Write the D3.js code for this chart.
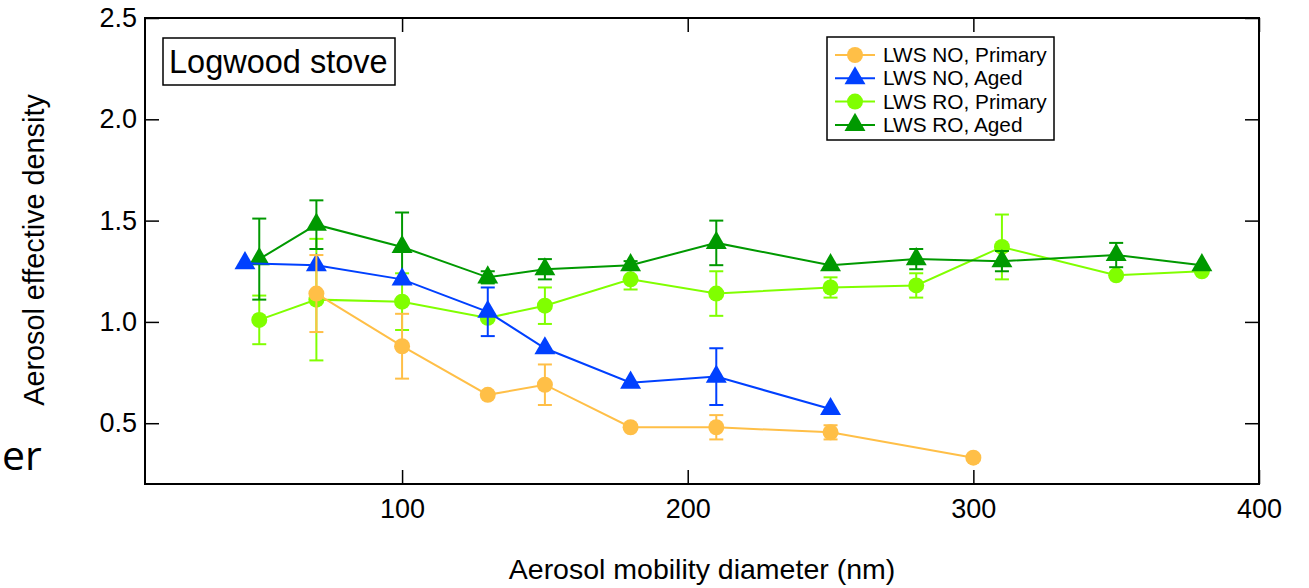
<!DOCTYPE html>
<html lang="en">
<head>
<meta charset="UTF-8">
<title>Aerosol effective density</title>
<style>
body { margin: 0; background: #fff; font-family: 'Liberation Sans', Arial, sans-serif; }
svg text { fill: #000; }
</style>
</head>
<body>
<div id="chart"></div>
<script src="https://cdnjs.cloudflare.com/ajax/libs/d3/7.8.5/d3.min.js"></script>
<script>

// LWS NO, Primary
var noPrimX = [70, 100, 130, 150, 180, 210, 250, 300];
var noPrimY = [1.14, 0.88, 0.64, 0.69, 0.48, 0.48, 0.455, 0.33];
var noPrimErr = [0.19, 0.16, 0, 0.10, 0, 0.06, 0.035, 0];

// LWS NO, Aged
var noAgedX = [45, 70, 100, 130, 150, 180, 210, 250];
var noAgedY = [1.29, 1.28, 1.21, 1.05, 0.87, 0.70, 0.73, 0.57];
var noAgedErr = [0, 0, 0, 0.12, 0, 0, 0.14, 0];

// LWS RO, Primary
var roPrimX = [50, 70, 100, 130, 150, 180, 210, 250, 280, 310, 350, 380];
var roPrimY = [1.01, 1.11, 1.10, 1.02, 1.08, 1.21, 1.14, 1.17, 1.18, 1.37, 1.23, 1.25];
var roPrimErr = [0.12, 0.30, 0.14, 0, 0.09, 0.05, 0.11, 0.05, 0.06, 0.16, 0, 0];

// LWS RO, Aged
var roAgedX = [50, 70, 100, 130, 150, 180, 210, 250, 280, 310, 350, 380];
var roAgedY = [1.31, 1.48, 1.37, 1.22, 1.26, 1.28, 1.39, 1.28, 1.31, 1.30, 1.33, 1.28];
var roAgedErr = [0.20, 0.12, 0.17, 0.03, 0.05, 0.02, 0.11, 0, 0.05, 0.05, 0.06, 0];

var xTicks = [100, 200, 300, 400];
var yTicks = [0.5, 1.0, 1.5, 2.0, 2.5];

var width = 1309;
var height = 588;
var margin = { top: 18, right: 50, bottom: 104, left: 145 };
var plotW = width - margin.left - margin.right;
var plotH = height - margin.top - margin.bottom;

var series = [
  { name: 'LWS RO, Primary', x: roPrimX, y: roPrimY, err: roPrimErr, color: '#80ff00', shape: 'circle' },
  { name: 'LWS RO, Aged', x: roAgedX, y: roAgedY, err: roAgedErr, color: '#009900', shape: 'triangle' },
  { name: 'LWS NO, Aged', x: noAgedX, y: noAgedY, err: noAgedErr, color: '#0040ff', shape: 'triangle' },
  { name: 'LWS NO, Primary', x: noPrimX, y: noPrimY, err: noPrimErr, color: '#ffbf47', shape: 'circle' }
];
var legendOrder = [3, 2, 0, 1];

var x = d3.scaleLinear().domain([10, 400]).range([0, plotW]);
var y = d3.scaleLinear().domain([0.2, 2.5]).range([plotH, 0]);

var svg = d3.select('#chart')
  .append('svg')
  .attr('width', width)
  .attr('height', height);

var g = svg.append('g')
  .attr('transform', 'translate(' + margin.left + ',' + margin.top + ')');

// axes, ticks pointing inward
var xAxis = g.append('g')
  .attr('transform', 'translate(0,' + plotH + ')')
  .call(d3.axisBottom(x).tickValues(xTicks).tickSize(-14).tickPadding(15).tickFormat(d3.format('d')));
var xTop = g.append('g')
  .call(d3.axisTop(x).tickValues(xTicks).tickSize(-14).tickFormat(''));
var yAxis = g.append('g')
  .call(d3.axisLeft(y).tickValues(yTicks).tickSize(-14).tickPadding(8).tickFormat(d3.format('.1f')));
var yRight = g.append('g')
  .attr('transform', 'translate(' + plotW + ',0)')
  .call(d3.axisRight(y).tickValues(yTicks).tickSize(-14).tickFormat(''));

[xAxis, xTop, yAxis, yRight].forEach(function (a) {
  a.select('.domain').remove();
  a.selectAll('.tick line').attr('stroke', '#000').attr('stroke-width', 1.5);
  a.selectAll('text').style('font-size', '27px').style('font-family', "'Liberation Sans', Arial, sans-serif").attr('fill', '#000');
});

g.append('rect')
  .attr('width', plotW)
  .attr('height', plotH)
  .attr('fill', 'none')
  .attr('stroke', '#000')
  .attr('stroke-width', 2);

var line = d3.line()
  .x(function (d) { return x(d.x); })
  .y(function (d) { return y(d.y); });

var triangle = d3.symbol().type(d3.symbolTriangle).size(190);
var capW = 7;

function drawMarker(sel, s) {
  if (s.shape === 'circle') {
    sel.append('circle').attr('r', 8).attr('fill', s.color);
  } else {
    sel.append('path').attr('d', triangle).attr('fill', s.color);
  }
}

series.forEach(function (s) {
  var pts = s.x.map(function (v, i) { return { x: v, y: s.y[i], e: s.err[i] }; });
  var sg = g.append('g');

  sg.append('path')
    .datum(pts)
    .attr('d', line)
    .attr('fill', 'none')
    .attr('stroke', s.color)
    .attr('stroke-width', 2);

  var eb = sg.selectAll('.err')
    .data(pts.filter(function (d) { return d.e > 0; }))
    .enter()
    .append('g')
    .attr('stroke', s.color)
    .attr('stroke-width', 2);
  eb.append('line')
    .attr('x1', function (d) { return x(d.x); })
    .attr('x2', function (d) { return x(d.x); })
    .attr('y1', function (d) { return y(d.y + d.e); })
    .attr('y2', function (d) { return y(d.y - d.e); });
  [1, -1].forEach(function (k) {
    eb.append('line')
      .attr('x1', function (d) { return x(d.x) - capW; })
      .attr('x2', function (d) { return x(d.x) + capW; })
      .attr('y1', function (d) { return y(d.y + k * d.e); })
      .attr('y2', function (d) { return y(d.y + k * d.e); });
  });

  sg.selectAll('.pt')
    .data(pts)
    .enter()
    .append('g')
    .attr('transform', function (d) { return 'translate(' + x(d.x) + ',' + y(d.y) + ')'; })
    .each(function () { drawMarker(d3.select(this), s); });
});

// title box
var tb = g.append('g').attr('transform', 'translate(18,20)');
tb.append('rect')
  .attr('width', 232).attr('height', 47)
  .attr('fill', '#fff').attr('stroke', '#000').attr('stroke-width', 1.5);
tb.append('text')
  .attr('x', 6).attr('y', 35)
  .style('font-size', '32.5px')
  .text('Logwood stove');

// legend
var lg = g.append('g').attr('transform', 'translate(682,19)');
lg.append('rect')
  .attr('width', 227).attr('height', 103)
  .attr('fill', '#fff').attr('stroke', '#000').attr('stroke-width', 1.5);
legendOrder.forEach(function (idx, i) {
  var s = series[idx];
  var row = lg.append('g').attr('transform', 'translate(0,' + (18 + i * 23.3) + ')');
  row.append('line')
    .attr('x1', 8).attr('x2', 48)
    .attr('stroke', s.color).attr('stroke-width', 2);
  var m = row.append('g').attr('transform', 'translate(28,0)');
  drawMarker(m, s);
  row.append('text')
    .attr('x', 56).attr('y', 7)
    .style('font-size', '20.8px')
    .text(s.name);
});

// axis titles
svg.append('text')
  .attr('transform', 'translate(44,250) rotate(-90)')
  .attr('text-anchor', 'middle')
  .style('font-size', '28.8px')
  .text('Aerosol effective density');

svg.append('text')
  .attr('x', 702).attr('y', 579)
  .attr('text-anchor', 'middle')
  .style('font-size', '28.5px')
  .text('Aerosol mobility diameter (nm)');

// stray text fragment at left edge
svg.append('text')
  .attr('x', 2).attr('y', 470)
  .style('font-family', "'Open Sans', sans-serif")
  .style('font-size', '41px')
  .text('er');

</script>
</body>
</html>
